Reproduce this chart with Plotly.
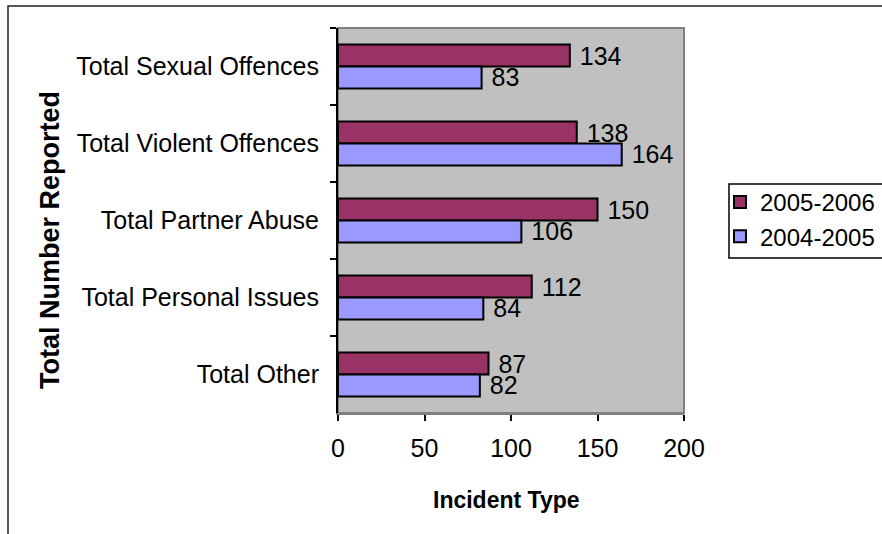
import plotly.graph_objects as go

categories = ["Total Sexual Offences", "Total Violent Offences", "Total Partner Abuse",
              "Total Personal Issues", "Total Other"]
series_names = ["2005-2006", "2004-2005"]
values_2005_2006 = [134, 138, 150, 112, 87]
values_2004_2005 = [83, 164, 106, 84, 82]
x_ticks = [0, 50, 100, 150, 200]

FONT = "Liberation Sans, Arial, sans-serif"
FS = 25

fig = go.Figure()
for name, vals, color in [(series_names[0], values_2005_2006, "#993366"),
                          (series_names[1], values_2004_2005, "#9999FF")]:
    fig.add_trace(go.Bar(
        y=categories, x=vals, orientation="h", name=name,
        marker=dict(color=color, line=dict(color="black", width=2)),
        text=vals, texttemplate=" %{x}", textposition="outside",
        constraintext="none", cliponaxis=False,
        textfont=dict(family=FONT, size=FS, color="black"),
    ))

L, R, T, B = 338, 684, 28, 413
pw, ph = R - L, B - T

def px(x):
    return (x - L) / pw

def py(y):
    return (B - y) / ph

fig.update_layout(
    width=882, height=534,
    margin=dict(l=L, r=882 - R, t=T, b=534 - B, pad=0, autoexpand=False),
    paper_bgcolor="white", plot_bgcolor="#C0C0C0",
    font=dict(family=FONT, size=FS, color="black"),
    barmode="group", bargap=0.43, bargroupgap=0,
    showlegend=True,
    legend=dict(x=px(720), y=py(180), xanchor="left", yanchor="top",
                bgcolor="rgba(0,0,0,0)", borderwidth=0,
                font=dict(family=FONT, size=24, color="black"),
                traceorder="normal", itemwidth=30),
    xaxis=dict(range=[0, 200], tickvals=x_ticks, ticks="outside", ticklen=6,
               tickcolor="black", tickwidth=1.5, showgrid=False, zeroline=False,
               showline=True, linecolor="#808080", linewidth=2,
               tickfont=dict(family=FONT, size=FS, color="black"),
               ticklabelstandoff=6, fixedrange=True),
    yaxis=dict(categoryorder="array", categoryarray=categories, autorange="reversed",
               ticks="outside", ticklen=6, tickson="boundaries", tickcolor="black",
               tickwidth=1.5, showgrid=False, zeroline=False,
               showline=True, linecolor="black", linewidth=2,
               tickfont=dict(family=FONT, size=FS, color="black"),
               ticklabelstandoff=12, fixedrange=True),
    shapes=[
        dict(type="rect", xref="paper", yref="paper", x0=0, x1=1, y0=0, y1=1,
             line=dict(color="#808080", width=2), layer="below"),
        dict(type="rect", xref="paper", yref="paper",
             x0=px(8), x1=px(1000), y0=py(700), y1=py(6),
             line=dict(color="#222222", width=1.5)),
        dict(type="rect", xref="paper", yref="paper",
             x0=px(729), x1=px(1000), y0=py(258), y1=py(184),
             fillcolor="white", line=dict(color="black", width=1.5), layer="below"),
    ],
    annotations=[
        dict(text="<b>Incident Type</b>", xref="paper", yref="paper",
             x=px(506), y=py(500), xanchor="center", yanchor="middle",
             showarrow=False, font=dict(family=FONT, size=23, color="black")),
        dict(text="<b>Total Number Reported</b>", xref="paper", yref="paper",
             x=px(50), y=py(240), xanchor="center", yanchor="middle", textangle=-90,
             showarrow=False, font=dict(family=FONT, size=27, color="black")),
    ],
)

fig.write_html("out.html")
